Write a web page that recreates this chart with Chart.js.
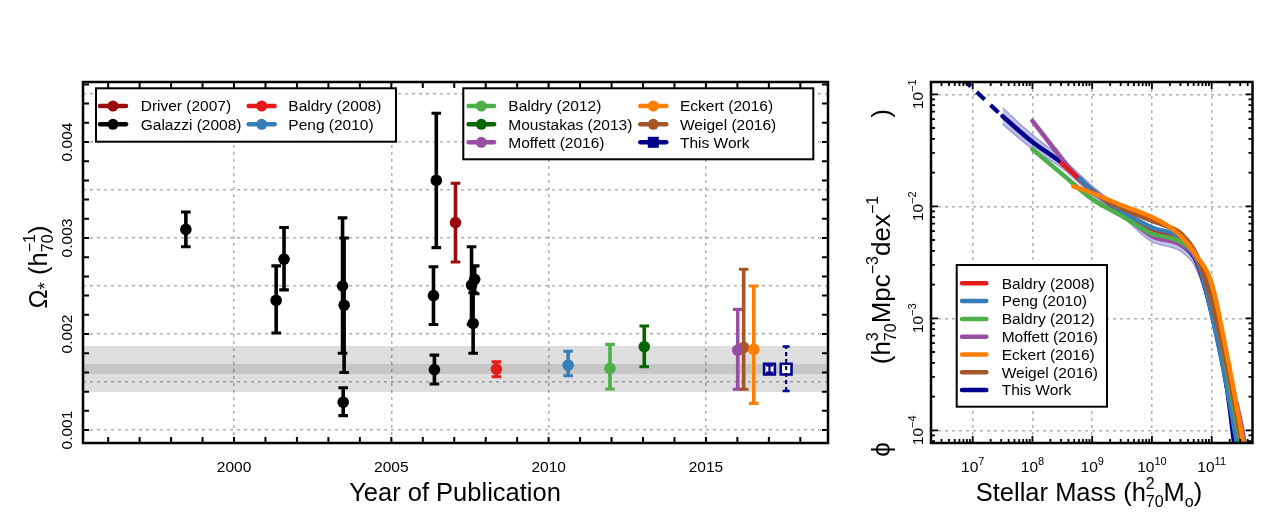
<!DOCTYPE html>
<html><head><meta charset="utf-8">
<script src="https://cdn.jsdelivr.net/npm/chart.js@4/dist/chart.umd.min.js"></script>
<style>
html,body{margin:0;padding:0;background:#fff;width:1275px;height:525px;overflow:hidden}
#c1{position:absolute;left:0;top:0}
#c2{position:absolute;left:850px;top:0}
</style></head><body>
<canvas id="c1" width="850" height="525"></canvas>
<canvas id="c2" width="425" height="525"></canvas>
<script>
const FONT = '"Liberation Sans", Arial, Helvetica, sans-serif';

// ================= LEFT PANEL DATA (Omega_* vs year) =================
const galazziYear  = [1998.47, 2001.34, 2001.59, 2003.45, 2003.50, 2003.47, 2006.43, 2006.34, 2006.37, 2007.65, 2007.55, 2007.60];
const galazziOmega = [0.00309, 0.00235, 0.00278, 0.00250, 0.00230, 0.00129, 0.00360, 0.00240, 0.00163, 0.00257, 0.00251, 0.00211];
const galazziLo    = [0.00291, 0.00201, 0.00246, 0.00180, 0.00160, 0.00115, 0.00290, 0.00210, 0.00148, 0.00242, 0.00210, 0.00180];
const galazziHi    = [0.00327, 0.00271, 0.00311, 0.00321, 0.00300, 0.00144, 0.00430, 0.00270, 0.00178, 0.00271, 0.00291, 0.00243];

const driverYear = [2007.04],  driverOmega = [0.00316],  driverLo = [0.00275],  driverHi = [0.00357];
const baldry08Year = [2008.34], baldry08Omega = [0.001635], baldry08Lo = [0.001555], baldry08Hi = [0.00171];
const pengYear = [2010.62],    pengOmega = [0.001677],   pengLo = [0.001566],   pengHi = [0.00182];
const baldry12Year = [2011.95], baldry12Omega = [0.001642], baldry12Lo = [0.001427], baldry12Hi = [0.001892];
const moustakasYear = [2013.04], moustakasOmega = [0.001868], moustakasLo = [0.00166], moustakasHi = [0.002083];
const moffettYear = [2016.01], moffettOmega = [0.001833], moffettLo = [0.001424], moffettHi = [0.002257];
const weigelYear = [2016.20],  weigelOmega = [0.00186],   weigelLo = [0.001424],  weigelHi = [0.002674];
const eckertYear = [2016.52],  eckertOmega = [0.00184],   eckertLo = [0.001278],  eckertHi = [0.0025];
const thisWorkYear = [2017.02, 2017.55], thisWorkOmega = [0.001635, 0.001635];
const thisWorkLo = [0.001597, 0.001406], thisWorkHi = [0.001673, 0.00187];

const bandOuter = [0.001396, 0.001875];
const bandInner = [0.001583, 0.001688];

const leftXTickVals = [2000, 2005, 2010, 2015];
const leftXTickLabels = ['2000', '2005', '2010', '2015'];
const leftYGridVals = [0.001, 0.0015, 0.002, 0.0025, 0.003, 0.0035, 0.004, 0.0045];
const leftYTickVals = [0.001, 0.002, 0.003, 0.004];
const leftYTickLabels = ['0.001', '0.002', '0.003', '0.004'];

// ================= RIGHT PANEL DATA (stellar mass functions) =================
const twMass  = [3.16e7, 1e8, 3.16e8, 1e9, 3.16e9, 1e10, 1.78e10, 3.16e10, 5.62e10, 1e11, 1.78e11, 2.51e11];
const twPhi   = [0.0637, 0.0375, 0.0242, 0.0139, 0.00885, 0.00552, 0.00509, 0.0045, 0.00317, 0.00112, 0.00025, 0.00006];
const twUpper = [0.0760, 0.0435, 0.0268, 0.0152, 0.0095, 0.0059, 0.0054, 0.0048, 0.0035, 0.00128, 0.00030, 0.00007];
const twLower = [0.0540, 0.0325, 0.0219, 0.0126, 0.0081, 0.0048, 0.0044, 0.0039, 0.0027, 0.00095, 0.00020, 0.00005];
const twExtMass = [4e6, 3.16e7];
const twExtPhi  = [0.179, 0.0637];

const b08Mass = [3.1e8, 1e9, 3.16e9, 1e10, 3.16e10, 5.62e10, 1e11, 1.78e11, 3.16e11];
const b08Phi  = [0.0241, 0.0139, 0.00867, 0.0060, 0.00499, 0.00344, 0.00114, 0.00031, 0.000054];
const pengMass = [6.25e8, 1e9, 3.16e9, 1e10, 3.16e10, 5.62e10, 1e11, 1.78e11, 3.16e11];
const pengPhi  = [0.0177, 0.0139, 0.00903, 0.00647, 0.00519, 0.00352, 0.00109, 0.00025, 0.000044];
const b12Mass = [1e8, 3.16e8, 1e9, 3.16e9, 1e10, 1.78e10, 3.16e10, 5.62e10, 1e11, 1.78e11, 3.16e11, 4e11];
const b12Phi  = [0.0323, 0.0193, 0.0116, 0.00817, 0.00571, 0.0053, 0.00478, 0.00352, 0.0015, 0.00035, 0.000071, 0.00004];
const moffMass = [1e8, 3.16e8, 5.62e8, 1e9, 3.16e9, 1e10, 3.16e10, 5.62e10, 1e11, 1.78e11, 3.16e11, 4e11];
const moffPhi  = [0.0578, 0.0264, 0.0182, 0.0139, 0.00867, 0.00541, 0.0045, 0.0033, 0.00125, 0.00037, 0.00011, 0.00005];
const eckMass = [4.83e8, 1e9, 3.16e9, 1e10, 1.78e10, 3.16e10, 5.62e10, 1e11, 1.78e11, 3.16e11, 4e11];
const eckPhi  = [0.0151, 0.01315, 0.0102, 0.00803, 0.00678, 0.0053, 0.00359, 0.00206, 0.00049, 0.000095, 0.000044];
const weiMass = [1e9, 3.16e9, 1e10, 1.78e10, 3.16e10, 5.62e10, 1e11, 1.78e11, 3.16e11];
const weiPhi  = [0.01336, 0.00962, 0.00741, 0.00664, 0.00563, 0.00366, 0.0014, 0.00038, 0.00008];

const massTickVals = [1e7, 1e8, 1e9, 1e10, 1e11];
const massTickExp = ['7', '8', '9', '10', '11'];
const phiTickVals = [1e-1, 1e-2, 1e-3, 1e-4];
const phiTickExp = ['−1', '−2', '−3', '−4'];

// ================= colours =================
const COL = {
  driver: '#9b0a0a', galazzi: '#000000', baldry08: '#e41a1c', peng: '#377eb8',
  baldry12: '#4daf4a', moustakas: '#006600', moffett: '#984ea3', eckert: '#ff7f00',
  weigel: '#a65628', thisWork: '#00008b'
};

// ================= helpers =================
function pts(xs, ys) { return xs.map((v, i) => ({ x: v, y: ys[i] })); }

function richWidth(ctx, parts) {
  let w = 0, hold = 0;
  for (const p of parts) {
    ctx.font = (p.s || 26) + 'px ' + FONT;
    const pw = ctx.measureText(p.t).width + (p.gap || 0);
    if (p.hold) { hold = pw; continue; }
    w += Math.max(pw, hold); hold = 0;
  }
  return w;
}
function drawRich(ctx, parts, x, y, rot) {
  ctx.save();
  ctx.translate(x, y);
  if (rot) ctx.rotate(rot);
  const W = richWidth(ctx, parts);
  let cx = -W / 2, hold = 0;
  ctx.textBaseline = 'alphabetic'; ctx.textAlign = 'left'; ctx.fillStyle = '#000';
  for (const p of parts) {
    ctx.font = (p.s || 26) + 'px ' + FONT;
    const pw = ctx.measureText(p.t).width + (p.gap || 0);
    if (p.t) ctx.fillText(p.t, cx, p.dy || 0);
    if (p.hold) { hold = pw; continue; }
    cx += Math.max(pw, hold); hold = 0;
  }
  ctx.restore();
}
function legendEntry(ctx, x0, x1, yc, color, label, tx, marker) {
  ctx.save();
  ctx.strokeStyle = color; ctx.lineWidth = 4.5; ctx.lineCap = 'round'; ctx.setLineDash([]);
  ctx.beginPath(); ctx.moveTo(x0 + 2, yc); ctx.lineTo(x1 - 2, yc); ctx.stroke();
  ctx.fillStyle = color;
  if (marker === 'circle') { ctx.beginPath(); ctx.arc((x0 + x1) / 2, yc, 5.5, 0, Math.PI * 2); ctx.fill(); }
  else if (marker === 'square') { ctx.fillRect((x0 + x1) / 2 - 5.5, yc - 5.5, 11, 11); }
  ctx.fillStyle = '#000'; ctx.font = '15.5px ' + FONT; ctx.textBaseline = 'middle'; ctx.textAlign = 'left';
  ctx.fillText(label, tx, yc + 1);
  ctx.restore();
}
function legendBox(ctx, x, y, w, h) {
  ctx.save(); ctx.fillStyle = '#fff'; ctx.fillRect(x, y, w, h);
  ctx.strokeStyle = '#000'; ctx.lineWidth = 2; ctx.strokeRect(x, y, w, h); ctx.restore();
}

// ================= LEFT CHART =================
const leftSeries = [
  { label: 'Driver (2007)', color: COL.driver, xs: driverYear, ys: driverOmega, lo: driverLo, hi: driverHi },
  { label: 'Galazzi (2008)', color: COL.galazzi, xs: galazziYear, ys: galazziOmega, lo: galazziLo, hi: galazziHi },
  { label: 'Baldry (2008)', color: COL.baldry08, xs: baldry08Year, ys: baldry08Omega, lo: baldry08Lo, hi: baldry08Hi },
  { label: 'Peng (2010)', color: COL.peng, xs: pengYear, ys: pengOmega, lo: pengLo, hi: pengHi },
  { label: 'Baldry (2012)', color: COL.baldry12, xs: baldry12Year, ys: baldry12Omega, lo: baldry12Lo, hi: baldry12Hi },
  { label: 'Moustakas (2013)', color: COL.moustakas, xs: moustakasYear, ys: moustakasOmega, lo: moustakasLo, hi: moustakasHi },
  { label: 'Moffett (2016)', color: COL.moffett, xs: moffettYear, ys: moffettOmega, lo: moffettLo, hi: moffettHi },
  { label: 'Eckert (2016)', color: COL.eckert, xs: eckertYear, ys: eckertOmega, lo: eckertLo, hi: eckertHi },
  { label: 'Weigel (2016)', color: COL.weigel, xs: weigelYear, ys: weigelOmega, lo: weigelLo, hi: weigelHi },
];

const leftDatasets = [
  { type: 'line', data: pts([1990, 2025], [bandOuter[1], bandOuter[1]]), fill: '+1', backgroundColor: 'rgba(0,0,0,0.13)', borderWidth: 0, pointRadius: 0, order: 20 },
  { type: 'line', data: pts([1990, 2025], [bandOuter[0], bandOuter[0]]), fill: false, borderWidth: 0, pointRadius: 0, order: 20 },
  { type: 'line', data: pts([1990, 2025], [bandInner[1], bandInner[1]]), fill: '+1', backgroundColor: 'rgba(0,0,0,0.11)', borderWidth: 0, pointRadius: 0, order: 19 },
  { type: 'line', data: pts([1990, 2025], [bandInner[0], bandInner[0]]), fill: false, borderWidth: 0, pointRadius: 0, order: 19 },
];
leftSeries.forEach(s => {
  leftDatasets.push({
    label: s.label, data: pts(s.xs, s.ys), pointRadius: 5.8, pointBackgroundColor: s.color, pointBorderWidth: 0,
    errLo: s.lo, errHi: s.hi, errColor: s.color, errW: s.xs.map(() => 3.6), errCap: s.xs.map(() => 4.8), errDash: s.xs.map(() => null), order: 1
  });
});
leftDatasets.push({
  label: 'This Work', data: pts(thisWorkYear, thisWorkOmega), pointStyle: 'rect', pointRadius: 7.6,
  pointBackgroundColor: '#ffffff', pointBorderColor: COL.thisWork, pointBorderWidth: 2.6,
  errLo: thisWorkLo, errHi: thisWorkHi, errColor: COL.thisWork, errW: [2.2, 2.2], errCap: [3.5, 3.5], errDash: [null, [4, 3]], order: 0
});

const errPlugin = {
  id: 'errbars',
  afterDatasetsDraw(chart) {
    const { ctx, chartArea: a, scales: { x, y } } = chart;
    ctx.save();
    ctx.beginPath(); ctx.rect(a.left, a.top, a.right - a.left, a.bottom - a.top); ctx.clip();
    chart.data.datasets.forEach(ds => {
      if (!ds.errLo) return;
      ds.data.forEach((p, i) => {
        const px = x.getPixelForValue(p.x);
        const lo = y.getPixelForValue(ds.errLo[i]);
        const hi = y.getPixelForValue(ds.errHi[i]);
        ctx.strokeStyle = ds.errColor; ctx.lineWidth = ds.errW[i]; ctx.lineCap = 'butt';
        ctx.setLineDash(ds.errDash[i] || []);
        ctx.beginPath(); ctx.moveTo(px, lo); ctx.lineTo(px, hi); ctx.stroke();
        ctx.setLineDash([]);
        ctx.lineWidth = Math.max(2.4, ds.errW[i] * 0.85);
        const c = ds.errCap[i];
        ctx.beginPath();
        ctx.moveTo(px - c, lo); ctx.lineTo(px + c, lo);
        ctx.moveTo(px - c, hi); ctx.lineTo(px + c, hi);
        ctx.stroke();
      });
    });
    ctx.restore();
  }
};

const leftDeco = {
  id: 'leftDeco',
  afterDraw(chart) {
    const { ctx, chartArea: a, scales: { x, y } } = chart;
    ctx.save();
    ctx.strokeStyle = '#000'; ctx.lineWidth = 2; ctx.beginPath();
    for (let yr = 1996; yr <= 2018; yr++) {
      const px = x.getPixelForValue(yr);
      ctx.moveTo(px, a.bottom); ctx.lineTo(px, a.bottom - 6);
      ctx.moveTo(px, a.top); ctx.lineTo(px, a.top + 6);
    }
    for (let k = 10; k <= 46; k += 2) {
      const py = y.getPixelForValue(k / 10000);
      ctx.moveTo(a.left, py); ctx.lineTo(a.left + 6, py);
      ctx.moveTo(a.right, py); ctx.lineTo(a.right - 6, py);
    }
    ctx.stroke();
    ctx.lineWidth = 2.5; ctx.strokeRect(a.left, a.top, a.right - a.left, a.bottom - a.top);
    ctx.fillStyle = '#000'; ctx.font = '15.5px ' + FONT; ctx.textAlign = 'center'; ctx.textBaseline = 'alphabetic';
    leftXTickVals.forEach((v, i) => ctx.fillText(leftXTickLabels[i], x.getPixelForValue(v), 472));
    leftYTickVals.forEach((v, i) => {
      ctx.save(); ctx.translate(72, y.getPixelForValue(v)); ctx.rotate(-Math.PI / 2);
      ctx.fillText(leftYTickLabels[i], 0, 0); ctx.restore();
    });
    drawRich(ctx, [{ t: 'Year of Publication', s: 25.5 }], 455, 501, 0);
    drawRich(ctx, [{ t: 'Ω', s: 25.5 }, { t: '*', s: 19, dy: 4 }, { t: ' (h', s: 25.5 }, { t: '−1', s: 16, dy: -12, hold: true }, { t: '70', s: 16, dy: 6 }, { t: ')', s: 25.5 }], 47, 267, -Math.PI / 2);
    legendBox(ctx, 96, 88.3, 300, 53.4);
    const L = leftSeries;
    legendEntry(ctx, 98, 128, 106, L[0].color, L[0].label, 140.7, 'circle');
    legendEntry(ctx, 98, 128, 124.3, L[1].color, L[1].label, 140.7, 'circle');
    legendEntry(ctx, 246.7, 276.7, 106, L[2].color, L[2].label, 288.3, 'circle');
    legendEntry(ctx, 246.7, 276.7, 124.3, L[3].color, L[3].label, 288.3, 'circle');
    legendBox(ctx, 463.3, 88.3, 350, 71);
    legendEntry(ctx, 466.7, 496, 106, L[4].color, L[4].label, 508.3, 'circle');
    legendEntry(ctx, 466.7, 496, 124.3, L[5].color, L[5].label, 508.3, 'circle');
    legendEntry(ctx, 466.7, 496, 142.3, L[6].color, L[6].label, 508.3, 'circle');
    legendEntry(ctx, 638.3, 668.3, 106, L[7].color, L[7].label, 680, 'circle');
    legendEntry(ctx, 638.3, 668.3, 124.3, L[8].color, L[8].label, 680, 'circle');
    legendEntry(ctx, 638.3, 668.3, 142.3, COL.thisWork, 'This Work', 680, 'square');
    ctx.restore();
  }
};

const gridStyle = { color: '#b0b0b0', lineWidth: 1.5, drawTicks: false };
const borderStyle = { display: false, dash: [3, 4] };

new Chart(document.getElementById('c1'), {
  type: 'scatter',
  data: { datasets: leftDatasets },
  options: {
    responsive: false, animation: false, devicePixelRatio: 1, events: [],
    layout: { padding: { left: 0, top: 82, right: 22, bottom: 0 } },
    plugins: { legend: { display: false }, tooltip: { enabled: false } },
    scales: {
      x: { type: 'linear', min: 1995.2, max: 2018.88,
           afterBuildTicks: s => { s.ticks = leftXTickVals.map(v => ({ value: v })); },
           afterFit: s => { s.height = 82; },
           ticks: { display: false }, grid: gridStyle, border: borderStyle },
      y: { type: 'linear', min: 0.000865, max: 0.004625,
           afterBuildTicks: s => { s.ticks = leftYGridVals.map(v => ({ value: v })); },
           afterFit: s => { s.width = 83; },
           ticks: { display: false }, grid: gridStyle, border: borderStyle }
    }
  },
  plugins: [errPlugin, leftDeco]
});

// ================= RIGHT CHART =================
const rightSeries = [
  { label: 'Baldry (2008)', color: COL.baldry08, xs: b08Mass, ys: b08Phi, order: 4 },
  { label: 'Peng (2010)', color: COL.peng, xs: pengMass, ys: pengPhi, order: 3 },
  { label: 'Baldry (2012)', color: COL.baldry12, xs: b12Mass, ys: b12Phi, order: 2 },
  { label: 'Moffett (2016)', color: COL.moffett, xs: moffMass, ys: moffPhi, order: 5 },
  { label: 'Eckert (2016)', color: COL.eckert, xs: eckMass, ys: eckPhi, order: 0 },
  { label: 'Weigel (2016)', color: COL.weigel, xs: weiMass, ys: weiPhi, order: 1 },
  { label: 'This Work', color: COL.thisWork, xs: twMass, ys: twPhi, order: 6 },
];
function lineDs(s) {
  return { type: 'line', label: s.label, data: pts(s.xs, s.ys), borderColor: s.color, backgroundColor: s.color,
    borderWidth: 4.5, pointRadius: 0, cubicInterpolationMode: 'monotone', fill: false, order: s.order,
    borderCapStyle: 'round', borderJoinStyle: 'round' };
}
const rightDatasets = [
  { type: 'line', data: pts(twMass, twUpper), fill: '+1', backgroundColor: 'rgba(115,115,205,0.45)', borderColor: 'rgba(110,110,200,0.65)', borderWidth: 1.2, pointRadius: 0, cubicInterpolationMode: 'monotone', order: 9 },
  { type: 'line', data: pts(twMass, twLower), fill: false, borderColor: 'rgba(110,110,200,0.65)', borderWidth: 1.2, pointRadius: 0, cubicInterpolationMode: 'monotone', order: 9 },
  { type: 'line', data: pts(twExtMass, twExtPhi), borderColor: COL.thisWork, borderWidth: 4.2, borderDash: [11, 8], pointRadius: 0, fill: false, order: 6 },
  ...rightSeries.map(lineDs)
];

const rightDeco = {
  id: 'rightDeco',
  afterDraw(chart) {
    const { ctx, chartArea: a, scales: { x, y } } = chart;
    ctx.save();
    ctx.strokeStyle = '#000'; ctx.lineWidth = 1.8; ctx.beginPath();
    for (let e = 6; e <= 11; e++) for (let k = 1; k <= 9; k++) {
      const v = k * Math.pow(10, e);
      if (v < x.min || v > x.max) continue;
      const px = x.getPixelForValue(v), len = k === 1 ? 7 : 4;
      ctx.moveTo(px, a.bottom); ctx.lineTo(px, a.bottom - len);
      ctx.moveTo(px, a.top); ctx.lineTo(px, a.top + len);
    }
    for (let e = -5; e <= -1; e++) for (let k = 1; k <= 9; k++) {
      const v = k * Math.pow(10, e);
      if (v < y.min || v > y.max) continue;
      const py = y.getPixelForValue(v), len = k === 1 ? 7 : 4;
      ctx.moveTo(a.left, py); ctx.lineTo(a.left + len, py);
      ctx.moveTo(a.right, py); ctx.lineTo(a.right - len, py);
    }
    ctx.stroke();
    ctx.lineWidth = 2.5; ctx.strokeRect(a.left, a.top, a.right - a.left, a.bottom - a.top);
    massTickVals.forEach((v, i) => drawRich(ctx, [{ t: '10', s: 15.5 }, { t: massTickExp[i], s: 11, dy: -7 }], x.getPixelForValue(v), 472, 0));
    phiTickVals.forEach((v, i) => drawRich(ctx, [{ t: '10', s: 15.5 }, { t: phiTickExp[i], s: 11, dy: -7 }], 73, y.getPixelForValue(v), -Math.PI / 2));
    drawRich(ctx, [{ t: 'Stellar Mass (h', s: 25.5 }, { t: '2', s: 16, dy: -12, hold: true }, { t: '70', s: 16, dy: 6 }, { t: 'M', s: 25.5 }, { t: 'o', s: 16, dy: 6 }, { t: ')', s: 25.5 }], 239, 501, 0);
    drawRich(ctx, [{ t: 'ϕ', s: 26 }, { t: '', gap: 78 }, { t: '(h', s: 26 }, { t: '3', s: 16, dy: -12, hold: true }, { t: '70', s: 16, dy: 6 },
                   { t: 'Mpc', s: 26 }, { t: '−3', s: 16, dy: -12 }, { t: 'dex', s: 26 }, { t: '−1', s: 16, dy: -12 }, { t: '', gap: 78 }, { t: ')', s: 26 }],
             40, 283, -Math.PI / 2);
    legendBox(ctx, 106.7, 265, 150.3, 141.7);
    rightSeries.forEach((s, i) => legendEntry(ctx, 110, 138.3, 283.3 + 17.8 * i, s.color, s.label, 151.7, null));
    ctx.restore();
  }
};

new Chart(document.getElementById('c2'), {
  type: 'line',
  data: { datasets: rightDatasets },
  options: {
    responsive: false, animation: false, devicePixelRatio: 1, events: [],
    layout: { padding: { left: 0, top: 82, right: 22.5, bottom: 0 } },
    plugins: { legend: { display: false }, tooltip: { enabled: false } },
    scales: {
      x: { type: 'logarithmic', min: 2.005e6, max: 4.82e11,
           afterBuildTicks: s => { s.ticks = massTickVals.map(v => ({ value: v })); },
           afterFit: s => { s.height = 82; },
           ticks: { display: false }, grid: gridStyle, border: borderStyle },
      y: { type: 'logarithmic', min: 7.7e-5, max: 0.1288,
           afterBuildTicks: s => { s.ticks = phiTickVals.map(v => ({ value: v })); },
           afterFit: s => { s.width = 81; },
           ticks: { display: false }, grid: gridStyle, border: borderStyle }
    }
  },
  plugins: [rightDeco]
});
</script>
</body></html>
